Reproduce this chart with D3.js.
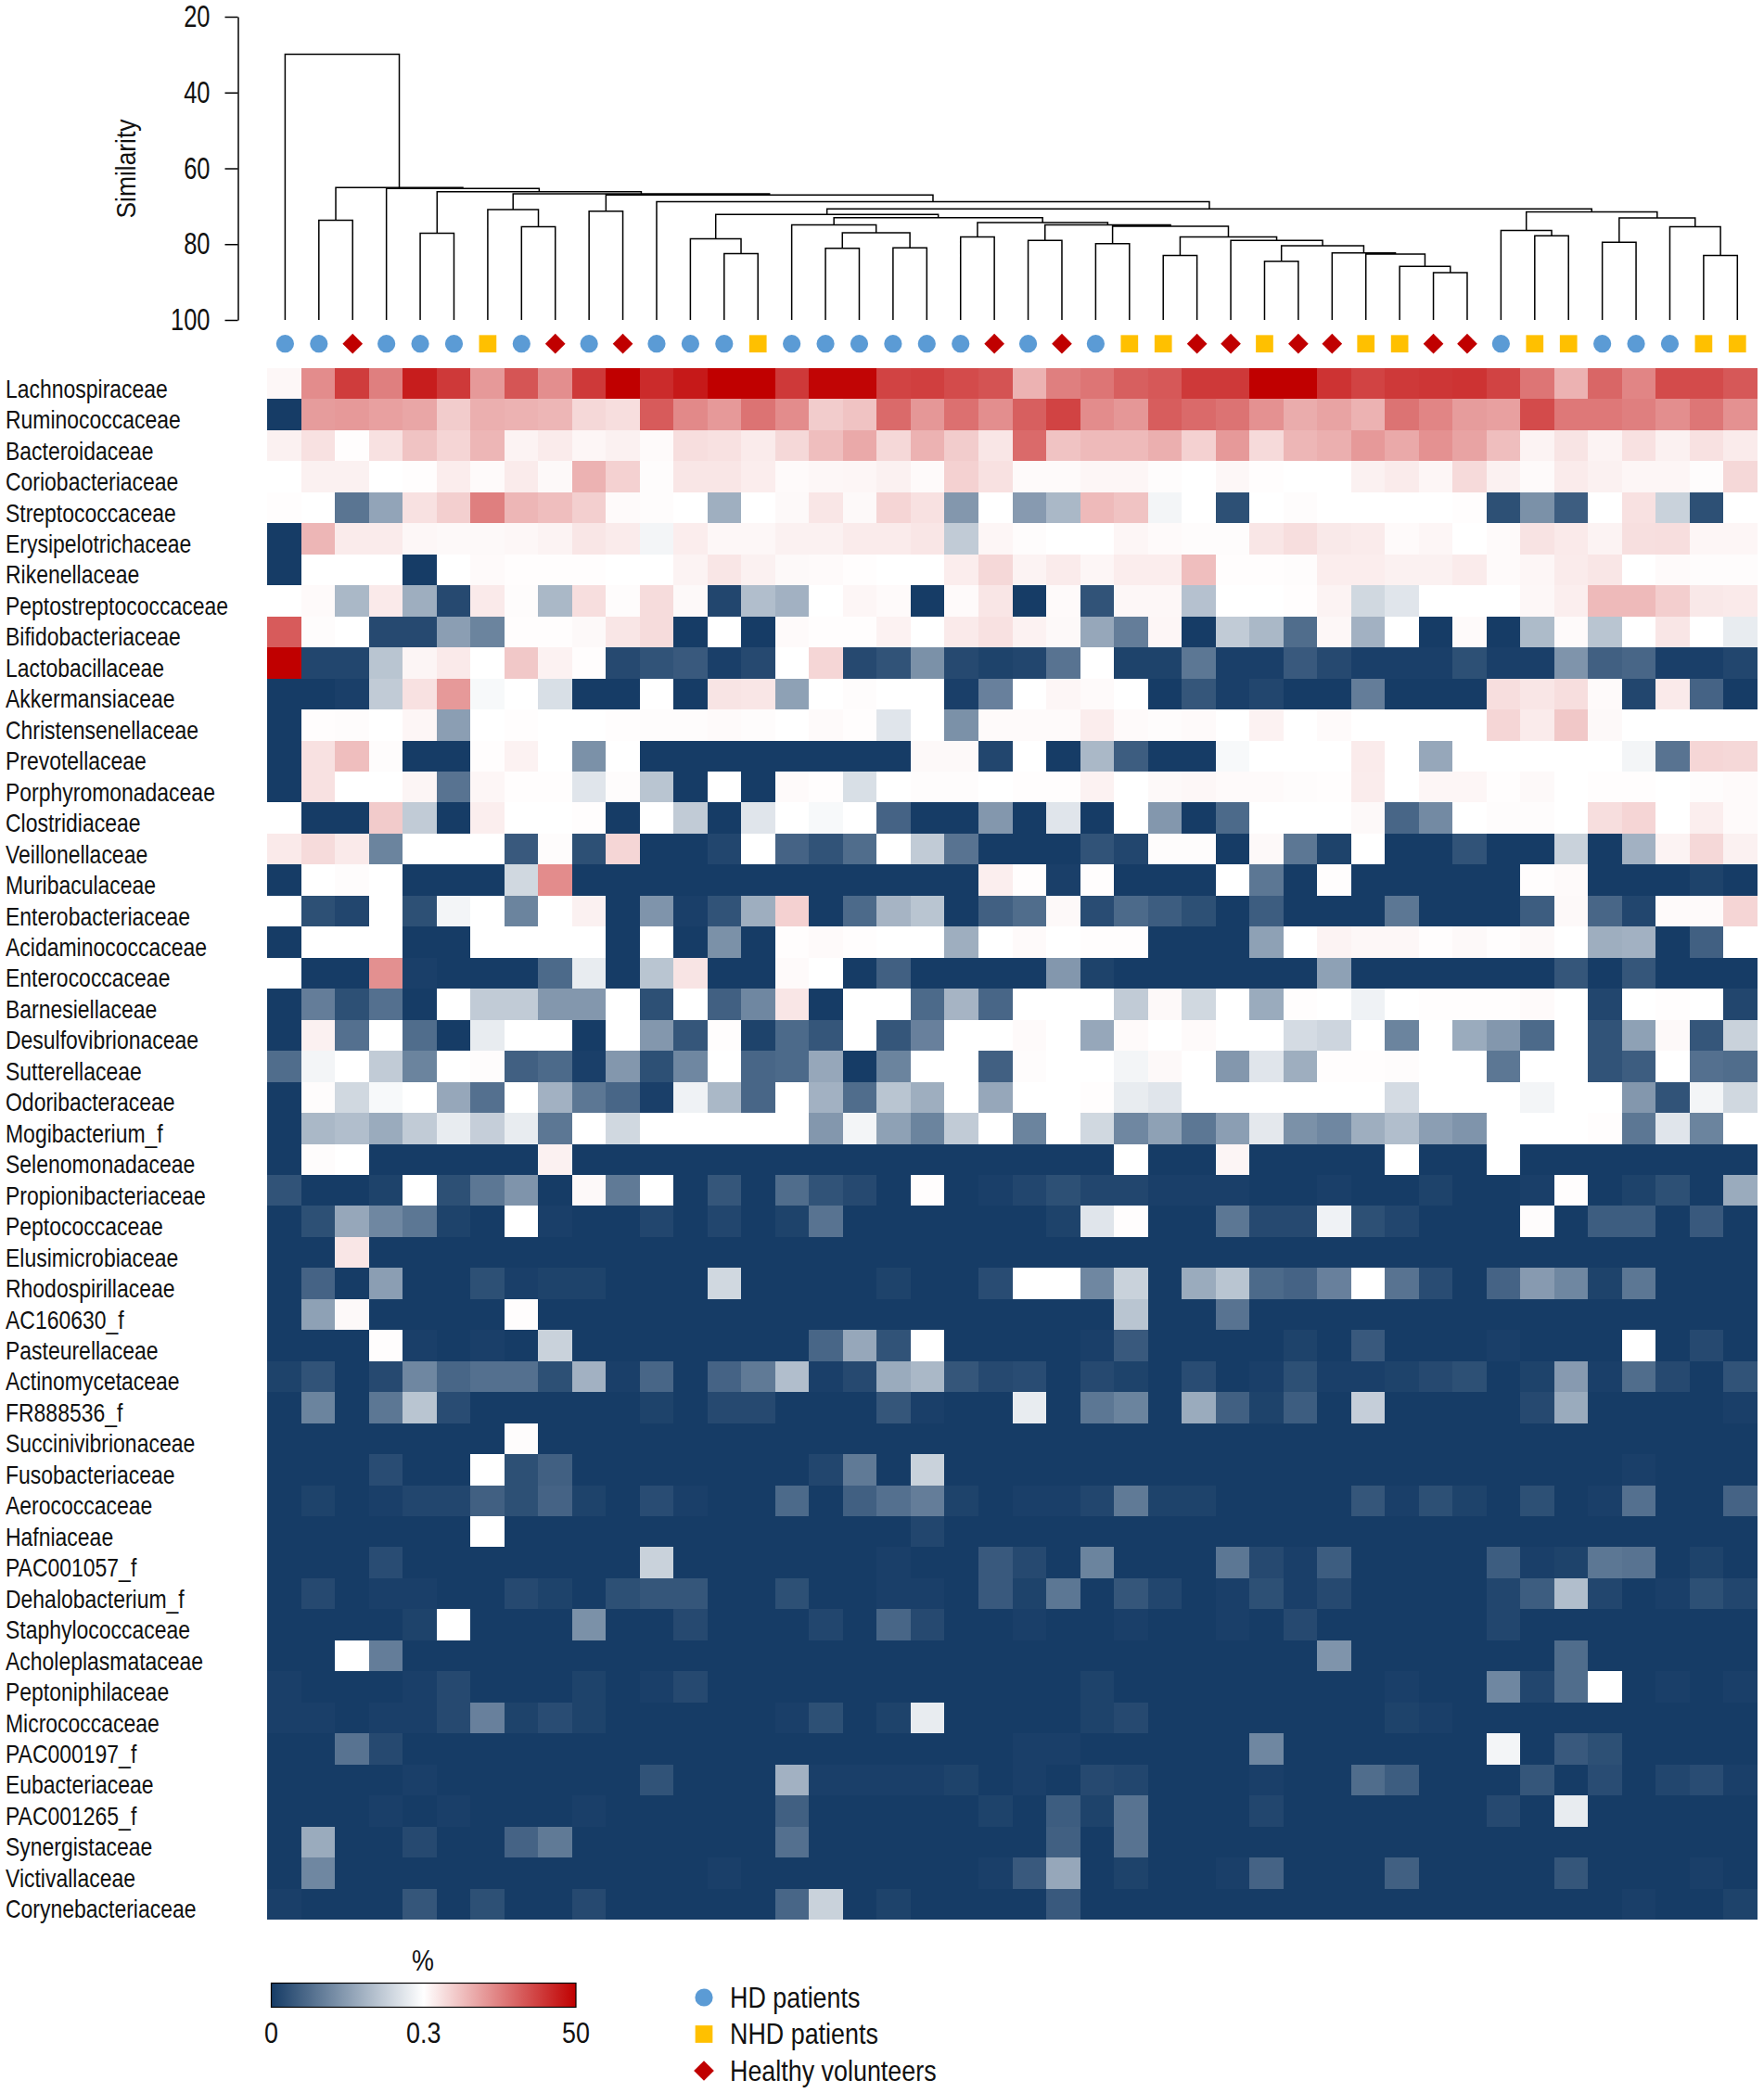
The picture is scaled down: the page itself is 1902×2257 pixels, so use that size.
<!DOCTYPE html>
<html>
<head>
<meta charset="utf-8">
<title>Heatmap</title>
<script src="https://cdn.jsdelivr.net/npm/d3@7"></script>
<style>
  html, body { margin: 0; padding: 0; background: #fff; }
  svg { display: block; font-family: "Liberation Sans", Arial, sans-serif; }
</style>
</head>
<body>
<script>
const taxa = ["Lachnospiraceae","Ruminococcaceae","Bacteroidaceae","Coriobacteriaceae","Streptococcaceae","Erysipelotrichaceae","Rikenellaceae","Peptostreptococcaceae","Bifidobacteriaceae","Lactobacillaceae","Akkermansiaceae","Christensenellaceae","Prevotellaceae","Porphyromonadaceae","Clostridiaceae","Veillonellaceae","Muribaculaceae","Enterobacteriaceae","Acidaminococcaceae","Enterococcaceae","Barnesiellaceae","Desulfovibrionaceae","Sutterellaceae","Odoribacteraceae","Mogibacterium_f","Selenomonadaceae","Propionibacteriaceae","Peptococcaceae","Elusimicrobiaceae","Rhodospirillaceae","AC160630_f","Pasteurellaceae","Actinomycetaceae","FR888536_f","Succinivibrionaceae","Fusobacteriaceae","Aerococcaceae","Hafniaceae","PAC001057_f","Dehalobacterium_f","Staphylococcaceae","Acholeplasmataceae","Peptoniphilaceae","Micrococcaceae","PAC000197_f","Eubacteriaceae","PAC001265_f","Synergistaceae","Victivallaceae","Corynebacteriaceae"];

// group of every sample, left to right
const sampleGroups = ["HD","HD","HV","HD","HD","HD","NHD","HD","HV","HD","HV","HD","HD","HD","NHD","HD","HD","HD","HD","HD","HD","HV","HD","HV","HD","NHD","NHD","HV","HV","NHD","HV","HV","NHD","NHD","HV","HV","HD","NHD","NHD","HD","HD","HD","NHD","NHD"];

const groupNames = ["HD patients","NHD patients","Healthy volunteers"];
const groupKeys = ["HD","NHD","HV"];
const similarityTicks = [20,40,60,80,100];
const legendTicks = [0,0.3,50];

// percent abundance, one row per family, one column per sample
const abundance = [
[.35,3,15,3.9,28,16,2.3,9,2.9,16,50,21,30,50,50,16,45,45,13,14,11,9.5,1.4,3.9,4.8,7.5,8.5,16,16,50,50,18,13,16,17,18,13,4.8,1.4,6.5,3.5,11,11,8.5],
[0,2.2,2.3,2,1.8,.83,1.5,1.4,1.3,.65,.58,8,3.2,2.3,5,3,.83,1,6,2.4,5.3,2.9,7.5,13,3,2.4,7.8,6,5,2.7,1.6,1.9,1.4,5,3.5,2.2,2,11,4.5,4.5,3.9,2.9,4.7,2.7],
[.4,.55,.31,.55,1,.7,1.3,.38,.45,.36,.4,.33,.58,.55,.45,.65,1.1,1.7,.65,1.4,.83,.5,6,1,1.2,1.2,1.5,.75,2.3,.63,1.3,1.5,2.3,1.7,2.7,1.9,1.1,.38,.52,.38,.55,.4,.55,.45],
[.3,.4,.4,.3,.31,.43,.33,.45,.34,1.4,.75,.32,.5,.5,.43,.33,.35,.36,.4,.33,.75,.55,.33,.33,.36,.36,.32,.3,.35,.31,.3,.3,.4,.45,.36,.63,.4,.33,.45,.4,.36,.36,.32,.65],
[.31,.3,.087,.16,.55,.78,3.9,1.3,1.1,.78,.33,.32,.3,.177,.3,.34,.5,.34,.7,.55,.14,.3,.145,.19,1.2,1,.285,.3,.03,.3,.32,.3,.3,.3,.3,.31,.03,.13,.05,.3,.55,.23,.03,.3],
[0,1.3,.45,.45,.35,.34,.34,.35,.38,.5,.45,.285,.43,.35,.35,.4,.4,.45,.45,.5,.22,.36,.32,.3,.3,.36,.33,.32,.32,.5,.58,.47,.45,.33,.36,.3,.33,.53,.46,.38,.57,.58,.36,.36],
[0,.3,.3,.3,0,.3,.33,.31,.31,.31,.3,.3,.38,.5,.4,.34,.33,.31,.3,.3,.43,.65,.38,.45,.36,.43,.43,1.1,.31,.31,.32,.43,.43,.4,.4,.45,.33,.36,.45,.5,.3,.33,.32,.32],
[.3,.33,.19,.46,.175,.02,.46,.32,.19,.58,.32,.6,.34,.015,.2,.18,.3,.36,.33,0,.33,.5,0,.33,.035,.35,.35,.205,.3,.3,.31,.38,.24,.26,.3,.3,.3,.35,.42,1.2,1.2,.8,.48,.46],
[8,.32,.3,.02,.02,.15,.11,.31,.31,.34,.5,.6,0,.3,0,.33,.31,.31,.39,.3,.46,.55,.39,.34,.165,.1,.36,0,.22,.19,.075,.35,.18,.3,0,.33,0,.195,.33,.21,.3,.5,.3,.27],
[50,.015,.015,.21,.37,.46,.3,.9,.39,.31,.02,.035,.045,.005,.02,.3,.68,.02,.035,.13,.02,.01,.015,.085,.3,.01,.01,.09,.005,.005,.045,.02,.005,.005,.005,.03,.005,.005,.135,.055,.065,.005,.005,.015],
[0,0,.005,.22,.55,2.3,.29,.3,.25,0,0,.3,0,.52,.5,.155,.3,.32,.3,.3,.005,.105,.3,.36,.33,.3,0,.04,.005,.015,0,0,.1,0,0,0,.58,.5,.58,.33,.015,.46,.06,0],
[0,.31,.32,.3,.36,.15,.3,.31,.3,.3,.31,.32,.32,.33,.32,.3,.33,.31,.26,.3,.13,.33,.33,.33,.43,.33,.32,.33,.3,.39,.3,.33,.3,.3,.3,.3,.68,.45,.9,.34,.3,.3,.3,.3],
[0,.55,1.1,.32,0,0,.31,.39,.3,.13,.3,0,0,0,0,0,0,0,0,.34,.34,.015,.3,0,.19,.05,0,0,.29,.3,.3,.3,.45,.3,.165,.3,.3,.3,.3,.3,.285,.085,.68,.65],
[0,.55,.3,.3,.37,.085,.36,.31,.31,.26,.32,.21,0,.3,0,.33,.31,.25,.3,.32,.32,.3,.31,.31,.39,.3,.34,.35,.33,.33,.32,.31,.44,.3,.36,.36,.31,.34,.3,.31,.31,.3,.32,.33],
[.3,0,0,.85,.22,0,.42,.3,.3,.31,0,.3,.22,0,.26,.3,.29,.3,.06,0,0,.14,0,.26,0,.3,.14,0,.07,.3,.3,.3,.34,.065,.12,.3,.32,.32,.3,.58,.7,.3,.42,.33],
[.46,.62,.46,.11,.3,.3,.3,.045,.32,.03,.68,0,0,.015,.3,.06,.035,.075,.3,.22,.085,0,0,0,.035,.015,.32,.32,0,.34,.09,.01,.3,0,0,.035,0,0,.23,0,.18,.38,.65,.4],
[0,.3,.32,.3,0,0,0,.24,3,0,0,0,0,0,0,0,0,0,0,0,0,.42,.31,.005,.31,0,0,0,.3,.09,0,.31,0,0,0,0,0,.31,.33,0,0,0,.01,0],
[.3,.03,.015,.3,.03,.285,.3,.11,.3,.4,0,.135,.005,.035,.175,.75,0,.07,.185,.21,0,.055,.075,.34,.025,.07,.05,.03,0,.05,0,0,0,.09,0,0,0,.05,.34,.065,.015,.33,.33,.7],
[0,.3,.3,.3,0,0,.3,.3,.3,.3,0,.3,0,.13,0,.31,.33,.31,.3,.3,.175,.3,.33,.3,.31,.31,0,0,0,.155,.3,.38,.35,.35,.31,.34,.31,.34,.3,.175,.18,0,.055,.3],
[.3,0,0,2.8,.005,0,0,0,.07,.27,0,.21,.52,0,0,.33,.3,0,.055,0,0,0,0,.14,.01,0,0,0,0,0,0,.155,0,0,0,0,0,0,.04,0,.04,0,0,0],
[0,.1,.03,.08,0,.3,.22,.22,.14,.14,.3,.03,.3,.055,.115,.5,0,.3,.3,.07,.185,.065,.3,.3,.3,.22,.34,.24,.3,.17,.31,.3,.28,.3,.31,.31,.31,.33,.3,.015,.3,.31,.3,.015],
[0,.4,.08,.3,.075,0,.27,.3,.3,0,.3,.14,.04,.31,.01,.07,.04,.3,.04,.105,.3,.3,.33,.3,.165,.33,.3,.33,.3,.3,.245,.235,.3,.11,.3,.17,.14,.07,.3,.035,.155,.34,.04,.23],
[.075,.285,.3,.22,.11,.3,.32,.055,.07,.005,.14,.03,.115,.3,.065,.07,.165,0,.11,.3,.3,.055,.32,.3,.3,.285,.34,.3,.14,.26,.175,.31,.31,.32,.3,.3,.09,.3,.3,.035,.05,.3,.08,.075],
[0,.32,.24,.29,.3,.165,.08,.3,.18,.09,.065,.005,.28,.19,.065,.3,.18,.075,.21,.175,.3,.165,.3,.3,.31,.27,.26,.3,.3,.3,.3,.3,.3,.245,.3,.3,.3,.285,.3,.3,.14,.035,.285,.24],
[0,.19,.2,.17,.22,.27,.225,.27,.09,.3,.24,.3,.3,.3,.3,.3,.14,.285,.155,.11,.22,.3,.11,.3,.24,.115,.155,.09,.15,.265,.13,.115,.175,.2,.15,.135,.3,.3,.3,.31,.09,.26,.11,.3],
[0,.32,.3,0,0,0,0,0,.4,0,0,0,0,0,0,0,0,0,0,0,0,0,0,0,0,.3,0,0,.37,0,0,0,0,.3,0,0,.3,0,0,0,0,0,0,0],
[.035,0,0,.01,.3,.03,.09,.135,0,.34,.095,.3,0,.04,0,.075,.035,.02,0,.31,0,.005,.015,.03,.015,.015,.005,.005,.005,0,0,.005,0,0,.01,0,0,.005,.31,0,.01,.03,0,.17],
[0,.03,.165,.115,.09,.01,0,.3,.005,0,0,.015,0,.015,0,.01,.085,0,0,0,0,0,0,.01,.26,.31,0,0,.09,.02,.02,.28,.03,.015,0,0,0,.32,0,.05,.05,0,.045,0],
[0,0,.5,0,0,0,0,0,0,0,0,0,0,0,0,0,0,0,0,0,0,0,0,0,0,0,0,0,0,0,0,0,0,0,0,0,0,0,0,0,0,0,0,0],
[0,.06,0,.15,0,0,.03,.005,.01,.01,0,0,0,.24,0,0,0,0,.01,0,0,.025,.3,.3,.115,.23,0,.17,.21,.07,.06,.105,.3,.085,.025,0,.06,.145,.115,.01,.09,0,0,0],
[0,.155,.34,0,0,0,0,.31,0,0,0,0,0,0,0,0,0,0,0,0,0,0,0,0,0,.21,0,0,.085,0,0,0,0,0,0,0,0,0,0,0,0,0,0,0],
[0,0,0,.31,.005,0,.005,0,.23,0,0,0,0,0,0,0,.065,.165,.035,.3,0,0,0,0,.005,.045,0,0,0,0,.01,0,.045,0,0,0,.005,0,0,0,.3,0,.02,0],
[.01,.035,0,.02,.115,.065,.08,.08,.03,.18,.005,.065,0,.06,.095,.2,.005,.02,.17,.19,.04,.02,.025,0,.02,.01,0,.025,0,.005,.03,.005,.005,.01,.02,.03,0,.01,.145,.005,.075,.02,0,.035],
[0,.11,0,.09,.21,.025,0,0,0,0,0,.01,0,.02,.02,0,0,0,.04,.005,0,0,.27,0,.09,.11,0,.17,.055,.01,.05,0,.225,0,0,0,0,.02,.17,0,0,0,0,.005],
[0,0,0,0,0,0,0,.32,0,0,0,0,0,0,0,0,0,0,0,0,0,0,0,0,0,0,0,0,0,0,0,0,0,0,0,0,0,0,0,0,0,0,0,0],
[0,0,0,.025,0,0,.3,.03,.055,0,0,0,0,0,0,0,.015,.095,0,.23,0,0,0,0,0,0,0,0,0,0,0,0,0,0,0,0,0,0,0,0,.005,0,0,0],
[0,.01,0,.005,.015,.015,.055,.03,.06,.01,0,.025,.005,0,0,.07,0,.055,.08,.1,.01,0,.005,.005,.015,.095,.01,.01,0,0,0,0,.04,.005,.03,.01,0,.03,0,.005,.08,0,0,.06],
[0,0,0,0,0,0,.3,0,0,0,0,0,0,0,0,0,0,0,0,.015,0,0,0,0,0,0,0,0,0,0,0,0,0,0,0,0,0,0,0,0,0,0,0,0],
[0,0,0,.025,0,0,0,0,0,0,0,.23,0,0,0,0,0,0,.005,0,0,.045,.02,0,.11,0,0,0,.09,.02,.005,.05,0,0,0,0,.05,.005,.01,.09,.085,0,.01,0],
[0,.02,0,.005,.005,0,0,.02,.01,0,.03,.04,.04,0,0,.03,0,0,.005,.005,0,.045,.01,.09,0,.04,.015,0,.005,.03,.005,.02,0,0,0,0,.015,.05,.2,.015,0,.005,.03,.015],
[0,0,0,0,.01,.3,0,0,0,.13,0,0,.02,0,0,0,.015,0,.065,.02,0,0,.005,0,0,.005,0,0,.005,0,.02,0,0,0,0,0,.015,0,0,0,0,0,0,0],
[0,0,.3,.1,0,0,0,0,0,0,0,0,0,0,0,0,0,0,0,0,0,0,0,0,0,0,0,0,0,0,0,.135,0,0,0,0,0,0,.075,0,0,0,0,0],
[.005,0,0,0,.005,.02,0,0,0,.01,0,.005,.02,0,0,0,0,0,0,0,0,0,0,0,.01,0,0,0,0,0,0,0,0,.005,0,0,.115,.015,.075,.3,0,.005,0,.005],
[.005,.005,0,.005,.005,.02,.105,.01,.025,.01,0,0,0,0,0,.005,.03,0,.01,.27,0,0,0,0,.01,.02,0,0,0,0,0,0,0,.01,.005,0,0,0,0,0,0,0,0,0],
[0,0,.085,.02,0,0,0,0,0,0,0,0,0,0,0,0,0,0,0,0,0,0,.005,.005,0,0,0,0,0,.115,0,0,0,0,0,0,.285,0,.045,.03,0,0,0,0],
[0,0,0,0,.005,0,0,0,0,0,0,.035,0,0,0,.18,.005,.005,.005,.005,.01,0,.005,0,.02,.015,0,0,0,.005,0,0,.075,.05,0,0,0,.04,0,.025,0,.015,.025,.005],
[0,0,0,.005,0,.005,0,0,0,.005,0,0,0,0,0,.055,0,0,0,0,0,.01,0,.05,.01,.085,0,0,0,.015,0,0,0,0,0,0,.02,0,.27,0,0,0,0,0],
[0,.17,0,0,.02,0,0,.06,.095,0,0,0,0,0,0,.08,0,0,0,0,0,0,0,.055,0,.085,0,0,0,0,0,0,0,0,0,0,0,0,0,0,0,0,0,0],
[0,.115,0,0,0,0,0,0,0,0,0,0,0,.005,0,0,0,0,0,0,0,.005,.045,.165,0,.01,0,0,.005,.06,0,0,0,.055,0,0,0,0,.04,0,0,0,.005,0],
[.005,0,0,0,.04,0,.03,0,0,.02,0,0,0,0,0,.065,.23,0,.01,0,0,0,0,.045,0,0,0,0,0,0,0,0,0,0,0,0,0,0,0,0,.005,0,0,.01]
];

// dendrogram: [similarity of the merge, left branch, right branch], numbers are samples
const dendrogram =
[29.9, 0,
 [65.1, [73.7,1,2],
  [65.3, 3,
   [66.2, [77.1,4,5],
    [66.7, [70.9,6,[75.4,7,8]],
     [67.05, [71.3,9,10],
      [68.8, 11,
       [70.7,
        [72.2, [78.6,12,[82.5,13,14]],
         [73.0,
          [74.9,15,[77.0,[81.1,16,17],[81.0,18,19]]],
          [74.3,[78.1,20,21],
           [74.9,[79.0,22,23],
            [75.3,[79.9,24,25],
             [78.1,[83.0,26,27],
              [79.0,28,
               [80.4,[84.5,29,30],
                [82.3,31,
                 [82.6,32,
                  [85.9,33,[87.5,34,35]]]]]]]]]]]],
        [71.5,[76.4,36,[77.8,37,38]],
         [73.1,[79.5,39,40],[75.4,41,[83,42,43]]]]]]]]]]]];

const width = 1902, height = 2257;
const svg = d3.select("body").append("svg")
    .attr("width", width)
    .attr("height", height)
    .attr("viewBox", [0, 0, width, height]);

const x = d3.scaleBand().domain(d3.range(sampleGroups.length)).range([288, 1895]);
const y = d3.scaleBand().domain(taxa).range([397, 2070]);
// the dendrogram and the symbols sit on a slightly narrower spacing than the cells
const leafX = d3.scalePoint().domain(d3.range(sampleGroups.length)).range([307.4, 1873.3]);

// colour runs linear from 0 to 0.3 and on a log scale from 0.3 to 50
const lowPart = d3.scaleLinear().domain([0, 0.3]).range([0, 0.5]);
const highPart = d3.scaleLog().domain([0.3, 50]).range([0.5, 1]);
const position = v => v <= 0.3 ? lowPart(v) : highPart(v);
const ramp = d3.scaleLinear().domain([0, 0.5, 1]).range(["#163c66", "#ffffff", "#c00000"]);

// heatmap
const rows = svg.append("g").attr("shape-rendering", "crispEdges").selectAll("g")
    .data(abundance)
    .enter().append("g");

rows.selectAll("rect")
    .data((d, i) => d.map((v, j) => ({ v: v, row: i, col: j })))
    .enter().append("rect")
    .attr("x", d => x(d.col))
    .attr("y", d => y(taxa[d.row]))
    .attr("width", x.bandwidth() + 0.4)
    .attr("height", y.bandwidth() + 0.4)
    .attr("fill", d => ramp(position(d.v)));

// row labels
svg.append("g").selectAll("text")
    .data(taxa)
    .enter().append("text")
    .attr("transform", d => `translate(6,${y(d) + y.bandwidth() / 2 + 15}) scale(0.835,1)`)
    .attr("font-size", 27.5)
    .attr("fill", "#111")
    .text(d => d);

// similarity axis
const simScale = d3.scaleLinear().domain([20, 100]).range([18, 345]);
const axis = svg.append("g")
    .attr("transform", "translate(256.5,0)")
    .call(d3.axisLeft(simScale).tickValues(similarityTicks).tickSize(14).tickSizeOuter(0));
axis.select(".domain").attr("stroke", "#000").attr("stroke-width", 1.5);
axis.selectAll(".tick line").attr("stroke", "#000").attr("stroke-width", 1.5);
axis.selectAll(".tick text")
    .attr("x", 0)
    .attr("transform", "translate(-30,0) scale(0.76,1)")
    .attr("font-family", "Liberation Sans")
    .attr("font-size", 33.5)
    .attr("fill", "#111");

svg.append("text")
    .attr("transform", "translate(146,182) rotate(-90) scale(0.91,1)")
    .attr("text-anchor", "middle")
    .attr("font-size", 29)
    .attr("fill", "#111")
    .text("Similarity");

// dendrogram
const root = d3.hierarchy(dendrogram, d => Array.isArray(d) ? d.slice(1) : null);
root.eachAfter(n => {
    if (n.children) {
        n.px = (n.children[0].px + n.children[1].px) / 2;
        n.py = simScale(n.data[0]);
    } else {
        n.px = leafX(n.data);
        n.py = simScale(100);
    }
});

const branch = d3.path();
root.descendants().filter(n => n.children).forEach(n => {
    const [a, b] = n.children;
    branch.moveTo(a.px, a.py);
    branch.lineTo(a.px, n.py);
    branch.lineTo(b.px, n.py);
    branch.lineTo(b.px, b.py);
});
svg.append("path")
    .attr("d", branch.toString())
    .attr("fill", "none")
    .attr("stroke", "#000")
    .attr("stroke-width", 1.5);

// group symbols
const symbolColour = d3.scaleOrdinal().domain(groupKeys).range(["#5b9bd5", "#ffc000", "#c00000"]);
const symbolShape = d3.scaleOrdinal().domain(groupKeys).range([d3.symbolCircle, d3.symbolSquare, d3.symbolDiamond2]);
const symbolSize = d3.scaleOrdinal().domain(groupKeys).range([290, 350, 300]);
const symbolPath = g => d3.symbol().type(symbolShape(g)).size(symbolSize(g))();

svg.append("g").selectAll("path")
    .data(sampleGroups)
    .enter().append("path")
    .attr("transform", (d, i) => `translate(${leafX(i)},370.7)`)
    .attr("d", symbolPath)
    .attr("fill", symbolColour);

// colour legend
const legendX = d3.scaleLinear().domain([0, 1]).range([292.5, 621]);
const gradient = svg.append("defs").append("linearGradient").attr("id", "ramp");
gradient.selectAll("stop")
    .data(ramp.domain())
    .enter().append("stop")
    .attr("offset", d => d * 100 + "%")
    .attr("stop-color", d => ramp(d));

svg.append("rect")
    .attr("x", legendX(0))
    .attr("y", 2138.5)
    .attr("width", legendX(1) - legendX(0))
    .attr("height", 26)
    .attr("fill", "url(#ramp)")
    .attr("stroke", "#000")
    .attr("stroke-width", 1.2);

svg.append("g").selectAll("text")
    .data(legendTicks)
    .enter().append("text")
    .attr("transform", d => `translate(${legendX(position(d))},2203) scale(0.84,1)`)
    .attr("text-anchor", "middle")
    .attr("font-size", 32)
    .attr("fill", "#111")
    .text(d => d);

svg.append("text")
    .attr("transform", "translate(456,2125) scale(0.84,1)")
    .attr("text-anchor", "middle")
    .attr("font-size", 32)
    .attr("fill", "#111")
    .text("%");

// group legend
const groupLegend = d3.scalePoint().domain(groupKeys).range([2154, 2233]);
const legendItems = svg.append("g").selectAll("g")
    .data(groupKeys)
    .enter().append("g")
    .attr("transform", d => `translate(759,${groupLegend(d)})`);

legendItems.append("path")
    .attr("d", symbolPath)
    .attr("fill", symbolColour);

legendItems.append("text")
    .attr("transform", "translate(28,10.5) scale(0.84,1)")
    .attr("font-size", 32)
    .attr("fill", "#111")
    .text((d, i) => groupNames[i]);
</script>
</body>
</html>
